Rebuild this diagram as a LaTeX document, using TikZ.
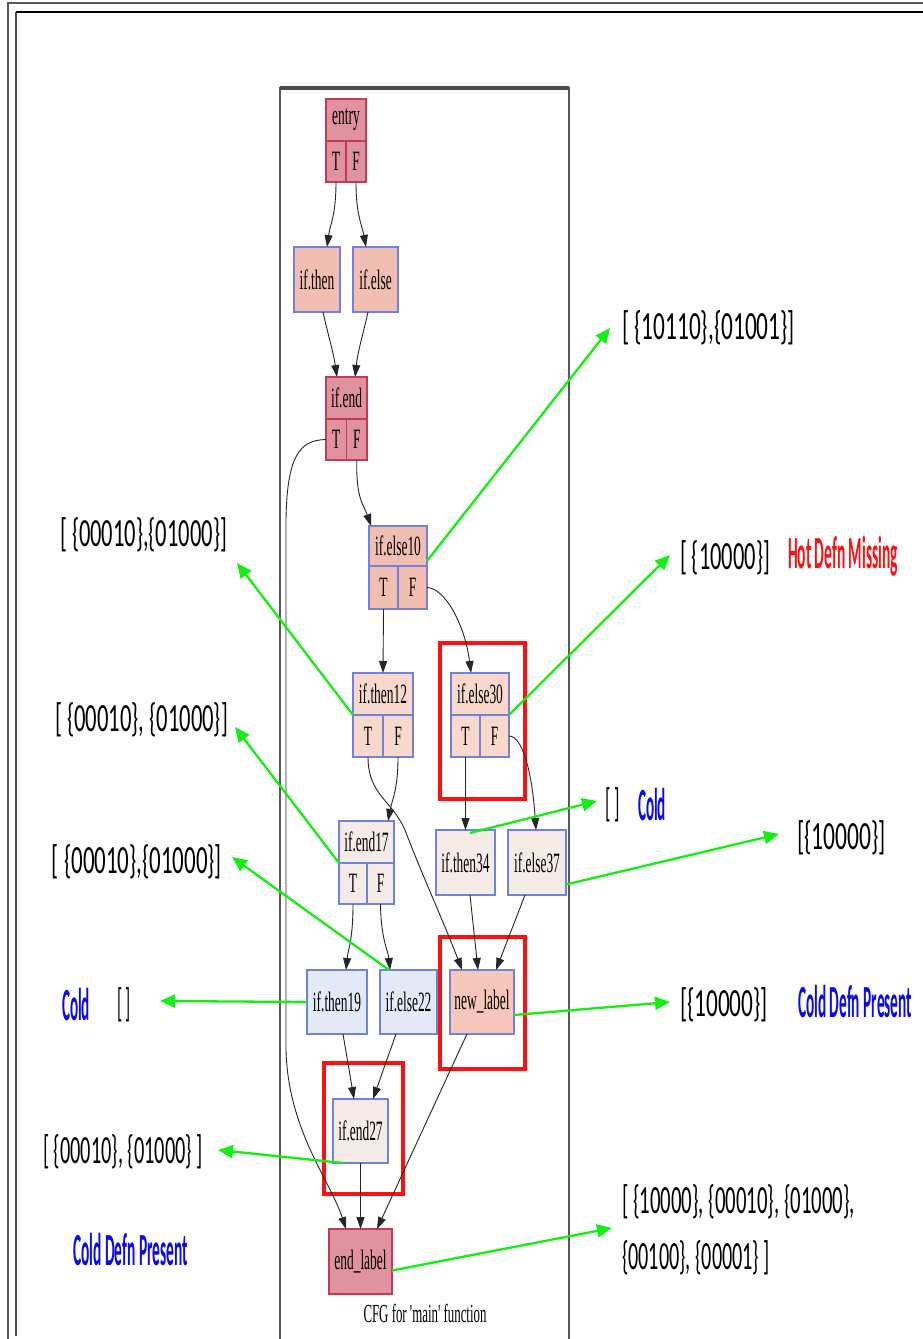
\documentclass[tikz,border=0pt]{standalone}
\usepackage{fontspec}
\usepackage{graphicx}
\setmainfont{Liberation Serif}
\newfontfamily\annfont{Carlito}
\usetikzlibrary{arrows.meta,calc}
\newcommand\fitw[2]{\resizebox{#1}{\height}{#2}}
\newcommand\gv[1]{\scalebox{0.48}[1]{#1}}
\definecolor{hotfill}{HTML}{E0939E}
\definecolor{hotdraw}{HTML}{C23A58}
\definecolor{warmfill}{HTML}{F2BEB2}
\definecolor{peachfill}{HTML}{F9D8CC}
\definecolor{nlfill}{HTML}{F5C6B9}
\definecolor{palefill}{HTML}{F4EAE6}
\definecolor{bluefill}{HTML}{E3E9F6}
\definecolor{bluedraw}{HTML}{7082DC}
\definecolor{grn}{HTML}{12F012}
\definecolor{cblue}{HTML}{0A0AF0}
\definecolor{hred}{HTML}{FF1010}
\begin{document}
\begin{tikzpicture}[x=1pt,y=-1pt,
  gvbox/.style={draw, line width=1.3pt, inner sep=0pt, outer sep=0pt, anchor=north west, font=\fontsize{28}{32}\selectfont},
  hot/.style={gvbox, fill=hotfill, draw=hotdraw},
  warm/.style={gvbox, fill=warmfill, draw=bluedraw},
  peach/.style={gvbox, fill=peachfill, draw=bluedraw},
  nl/.style={gvbox, fill=nlfill, draw=bluedraw},
  pale/.style={gvbox, fill=palefill, draw=bluedraw},
  cool/.style={gvbox, fill=bluefill, draw=bluedraw},
  cfgedge/.style={draw=black!85, line width=0.9pt, -{Triangle[length=12pt,width=8pt]}},
  annarrow/.style={draw=grn, line width=2.3pt, -{Triangle[length=15pt,width=13pt]}},
  redbox/.style={draw=hred, line width=4.5pt},
  anntext/.style={inner sep=0pt, outer sep=0pt, font=\annfont\fontsize{40}{44}\selectfont},
  blueann/.style={anntext, text=cblue, font=\annfont\bfseries\fontsize{46}{50}\selectfont},
  redann/.style={anntext, text=hred, font=\annfont\bfseries\fontsize{46}{50}\selectfont}
]
\useasboundingbox (0,0) rectangle (923,1339);
\fill[white] (0,0) rectangle (923,1339);

% outer frames
\draw[line width=2pt, gray!70!black] (7.5,1339) -- (7.5,3) -- (923,3);
\draw[line width=1.6pt, gray!60!black] (16,1336) -- (16,12);
\draw[line width=2pt, black] (16,12) -- (923,12);

% CFG frame
\draw[line width=1.4pt, gray!70!black] (280,1339) -- (280,88) -- (569,88) -- (569,1339);
\draw[line width=4pt, gray!60!black] (280,88) -- (569,88);

% red highlight boxes
\draw[redbox] (440,643) rectangle (525,799);
\draw[redbox] (440,937) rectangle (525,1069);
\draw[redbox] (324,1063) rectangle (403,1194);

% nodes
\node[hot, minimum width=40pt, minimum height=42pt] (entry) at (326,99) {\gv{entry}};
\node[hot, minimum width=20pt, minimum height=41pt] (entryT) at (326,141) {\gv{T}};
\node[hot, minimum width=20pt, minimum height=41pt] (entryF) at (346,141) {\gv{F}};

\node[warm, minimum width=46pt, minimum height=65pt] (ifthen) at (294,247) {\gv{if.then}};
\node[warm, minimum width=45pt, minimum height=65pt] (ifelse) at (353,247) {\gv{if.else}};

\node[hot, minimum width=41pt, minimum height=42pt] (ifend) at (326,377) {\gv{if.end}};
\node[hot, minimum width=20.5pt, minimum height=41pt] (ifendT) at (326,419) {\gv{T}};
\node[hot, minimum width=20.5pt, minimum height=41pt] (ifendF) at (346.5,419) {\gv{F}};

\node[warm, minimum width=58pt, minimum height=40pt] (ifelse10) at (369,526) {\gv{if.else10}};
\node[warm, minimum width=29pt, minimum height=43pt] (ifelse10T) at (369,566) {\gv{T}};
\node[warm, minimum width=29pt, minimum height=43pt] (ifelse10F) at (398,566) {\gv{F}};

\node[peach, minimum width=60pt, minimum height=42pt] (ifthen12) at (353,673) {\gv{if.then12}};
\node[peach, minimum width=30pt, minimum height=42pt] (ifthen12T) at (353,715) {\gv{T}};
\node[peach, minimum width=30pt, minimum height=42pt] (ifthen12F) at (383,715) {\gv{F}};

\node[peach, minimum width=58pt, minimum height=42pt] (ifelse30) at (451,673) {\gv{if.else30}};
\node[peach, minimum width=29pt, minimum height=42pt] (ifelse30T) at (451,715) {\gv{T}};
\node[peach, minimum width=29pt, minimum height=42pt] (ifelse30F) at (480,715) {\gv{F}};

\node[pale, minimum width=55pt, minimum height=42pt] (ifend17) at (339,821) {\gv{if.end17}};
\node[pale, minimum width=28pt, minimum height=41pt] (ifend17T) at (339,863) {\gv{T}};
\node[pale, minimum width=27pt, minimum height=41pt] (ifend17F) at (367,863) {\gv{F}};

\node[pale, minimum width=59pt, minimum height=65pt] (ifthen34) at (436,830) {\gv{if.then34}};
\node[pale, minimum width=58pt, minimum height=65pt] (ifelse37) at (508,830) {\gv{if.else37}};

\node[cool, minimum width=60pt, minimum height=64pt] (ifthen19) at (307,970) {\gv{if.then19}};
\node[cool, minimum width=57pt, minimum height=64pt] (ifelse22) at (380,970) {\gv{if.else22}};
\node[nl, minimum width=64pt, minimum height=64pt] (newlabel) at (450,970) {\gv{new\_label}};

\node[pale, minimum width=55pt, minimum height=64pt] (ifend27) at (333,1099) {\gv{if.end27}};
\node[hot, minimum width=63pt, minimum height=65pt] (endlabel) at (329,1229) {\gv{end\_label}};

\node[inner sep=0pt, font=\fontsize{26}{30}\selectfont] (caption) at (425,1313) {\fitw{123pt}{CFG for \textquotesingle main\textquotesingle\ function}};

% CFG edges
\draw[cfgedge] (entryT.south) .. controls (336,215) and (330,225) .. ([xshift=33pt]ifthen.north west);
\draw[cfgedge] (entryF.south) .. controls (356,215) and (362,225) .. ([xshift=13pt]ifelse.north west);
\draw[cfgedge] ([xshift=29pt]ifthen.south west) .. controls (328,335) and (333,350) .. ([xshift=11pt]ifend.north west);
\draw[cfgedge] ([xshift=15pt]ifelse.south west) .. controls (363,335) and (358,350) .. ([xshift=29pt]ifend.north west);
\draw[cfgedge] (ifendT.west) .. controls (300,440) and (287,455) .. (286,520) -- (286,1050) .. controls (288,1130) and (330,1180) .. ([xshift=17pt]endlabel.north west);
\draw[cfgedge] (ifendF.south) .. controls (356,500) and (364,505) .. ([xshift=2pt]ifelse10.north west);
\draw[cfgedge] (ifelse10T.south) -- (ifthen12.north);
\draw[cfgedge] (ifelse10F.east) .. controls (445,588) and (465,625) .. ([xshift=20pt]ifelse30.north west);
\draw[cfgedge] (ifthen12T.south) .. controls (368,795) and (392,800) .. (405,830) .. controls (420,870) and (445,925) .. ([xshift=12pt]newlabel.north west);
\draw[cfgedge] (ifthen12F.south) .. controls (398,790) and (392,800) .. ([xshift=49pt]ifend17.north west);
\draw[cfgedge] (ifelse30T.south) -- (ifthen34.north);
\draw[cfgedge] (ifelse30F.east) .. controls (522,736) and (532,770) .. ([xshift=28pt]ifelse37.north west);
\draw[cfgedge] (ifend17T.south) .. controls (353,940) and (348,950) .. ([xshift=39pt]ifthen19.north west);
\draw[cfgedge] (ifend17F.south) .. controls (381,940) and (388,950) .. ([xshift=10pt]ifelse22.north west);
\draw[cfgedge] ([xshift=34pt]ifthen34.south west) -- ([xshift=28pt]newlabel.north west);
\draw[cfgedge] ([xshift=17pt]ifelse37.south west) -- ([xshift=46pt]newlabel.north west);
\draw[cfgedge] ([xshift=36pt]ifthen19.south west) -- ([xshift=21pt]ifend27.north west);
\draw[cfgedge] ([xshift=16pt]ifelse22.south west) -- ([xshift=40pt]ifend27.north west);
\draw[cfgedge] ([xshift=17pt]newlabel.south west) -- ([xshift=48pt]endlabel.north west);
\draw[cfgedge] (ifend27.south) -- (endlabel.north);

% annotation texts
\node[anntext] (t1) at (708.5,328) {\fitw{173pt}{[ \{10110\},\{01001\}]}};
\node[anntext] (t2) at (143.5,535) {\fitw{167pt}{[ \{00010\},\{01000\}]}};
\node[anntext] (t3) at (725,558) {\fitw{90pt}{[ \{10000\}]}};
\node[redann] (t4) at (843,556) {\fitw{110pt}{Hot Defn Missing}};
\node[anntext] (t5) at (141.5,720) {\fitw{173pt}{[ \{00010\}, \{01000\}]}};
\node[anntext] (t6) at (612.5,805) {\fitw{15pt}{[ ]}};
\node[blueann] (t6b) at (652,805) {\fitw{28pt}{Cold}};
\node[anntext] (t7) at (841.5,838) {\fitw{89pt}{[\{10000\}]}};
\node[anntext] (t8) at (137,862) {\fitw{170pt}{[ \{00010\},\{01000\}]}};
\node[blueann] (t9b) at (76,1005) {\fitw{28pt}{Cold}};
\node[anntext] (t9) at (124,1005) {\fitw{14pt}{[ ]}};
\node[anntext] (t10) at (724,1005) {\fitw{88pt}{[\{10000\}]}};
\node[blueann] (t10b) at (855,1002) {\fitw{114pt}{Cold Defn Present}};
\node[anntext] (t11) at (123,1152) {\fitw{160pt}{[ \{00010\}, \{01000\} ]}};
\node[blueann] (t12) at (130.5,1250) {\fitw{115pt}{Cold Defn Present}};
\node[anntext, anchor=west] (t13) at (622,1202) {\fitw{233pt}{[ \{10000\}, \{00010\}, \{01000\},}};
\node[anntext, anchor=west] (t13b) at (622,1258) {\fitw{148pt}{\{00100\}, \{00001\} ]}};

% green annotation arrows
\coordinate (g1) at (610,328);
\coordinate (g2) at (237,563);
\coordinate (g3) at (670,555);
\coordinate (g4) at (597,801);
\coordinate (g5) at (779,834);
\coordinate (g6) at (235,727);
\coordinate (g7) at (232,857);
\coordinate (g8) at (160,1001);
\coordinate (g9) at (670,1002);
\coordinate (g10) at (218,1150);
\coordinate (g11) at (612,1228);
\draw[annarrow] ([yshift=-15pt]ifelse10.east) -- (g1);
\draw[annarrow] (ifthen12T.north west) -- (g2);
\draw[annarrow] (ifelse30F.north east) -- (g3);
\draw[annarrow] ([xshift=34pt,yshift=-3pt]ifthen34.north west) -- (g4);
\draw[annarrow] ([yshift=-22pt]ifelse37.east) -- (g5);
\draw[annarrow] (ifend17T.north west) -- (g6);
\draw[annarrow] ([xshift=9pt]ifelse22.north west) -- (g7);
\draw[annarrow] (ifthen19.west) -- (g8);
\draw[annarrow] ([yshift=-13pt]newlabel.east) -- (g9);
\draw[annarrow] ([xshift=10pt]ifend27.south west) -- (g10);
\draw[annarrow] ([yshift=-9pt]endlabel.east) -- (g11);
\end{tikzpicture}
\end{document}
